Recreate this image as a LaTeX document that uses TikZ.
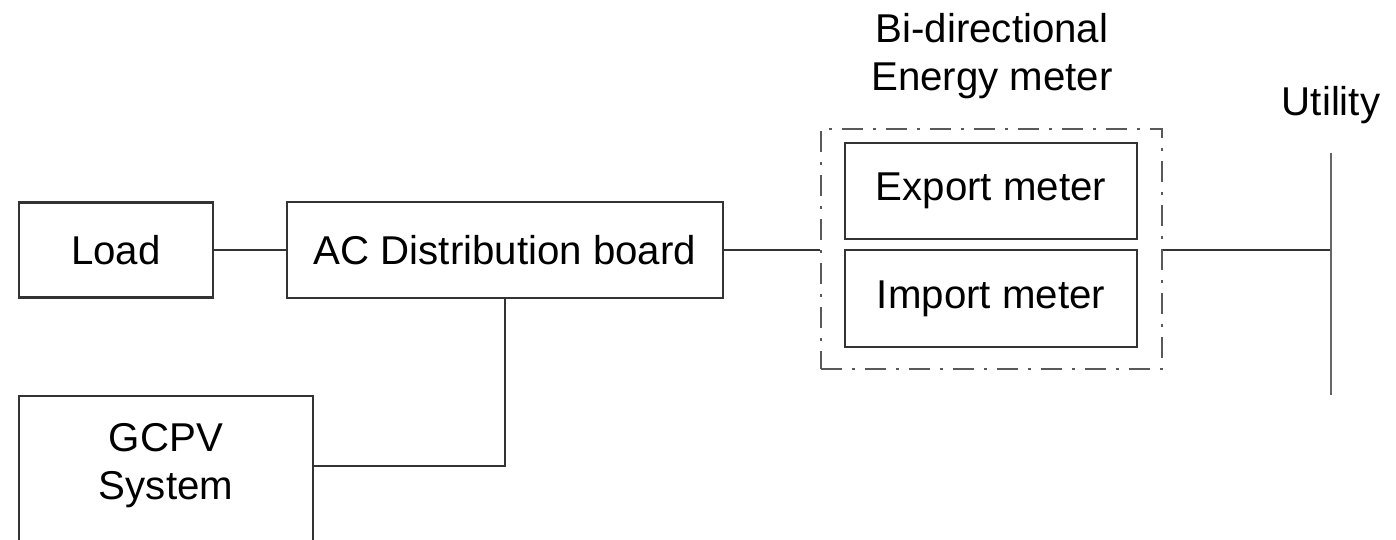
\documentclass[tikz,border=0pt]{standalone}
\usepackage{fontspec}
\setmainfont{Liberation Sans}
\usetikzlibrary{positioning}

\tikzset{
    blk/.style = {draw = black!80, line width = 1.25pt, inner sep = 0pt},
    wire/.style = {draw = black!80, line width = 1pt},
    busbar/.style = {draw = black!60, line width = 1.4pt},
    dashdot/.style = {dash pattern = on 0.42cm off 0.2cm on 0.06cm off 0.2cm},
}

\begin{document}
\begin{tikzpicture}[x = 0.02cm, y = -0.02cm, font = \fontsize{22.9}{27.3}\selectfont]
            \useasboundingbox (0, 0) rectangle (1396, 539);
            \clip (0, 0) rectangle (1396, 539);

            \node[blk, minimum width = 3.88cm, minimum height = 1.9cm] (load) at (116, 250) {Load};
            \node[blk, minimum width = 8.72cm, minimum height = 1.92cm] (acdb) at (505, 250) {AC Distribution board};
            \node[blk, minimum width = 5.88cm, minimum height = 3.4cm] (gcpv) at (166, 481) {};
            \node[align = center, inner sep = 0pt] (gcpvtxt) at (166, 466) {GCPV\\System};

            \node[blk, black!65, dashdot, minimum width = 6.82cm, minimum height = 4.8cm] (meter) at (991.5, 249) {};
            \node[blk, minimum width = 5.84cm, minimum height = 1.92cm] (export) at (991, 191) {Export meter};
            \node[blk, minimum width = 5.84cm, minimum height = 1.94cm] (import) at (991, 298.5) {Import meter};
            \node[align = center, inner sep = 0pt] (metertxt) at (992, 56) {Bi-directional\\Energy meter};

            \coordinate (bustop) at (1331, 153);
            \coordinate (busbot) at (1331, 395);
            \node[anchor = base, inner sep = 0pt] (utility) at (1331, 115) {Utility};

            \draw[wire] (load.east) -- (acdb.west);
            \draw[wire] (acdb.east) -- (acdb.east -| meter.west);
            \draw[wire] (acdb.east -| meter.east) -- (acdb.east -| bustop);
            \draw[busbar] (bustop) -- (busbot);
            \draw[wire] (acdb.south) |- (gcpv.east |- gcpvtxt.center);
\end{tikzpicture}
\end{document}
